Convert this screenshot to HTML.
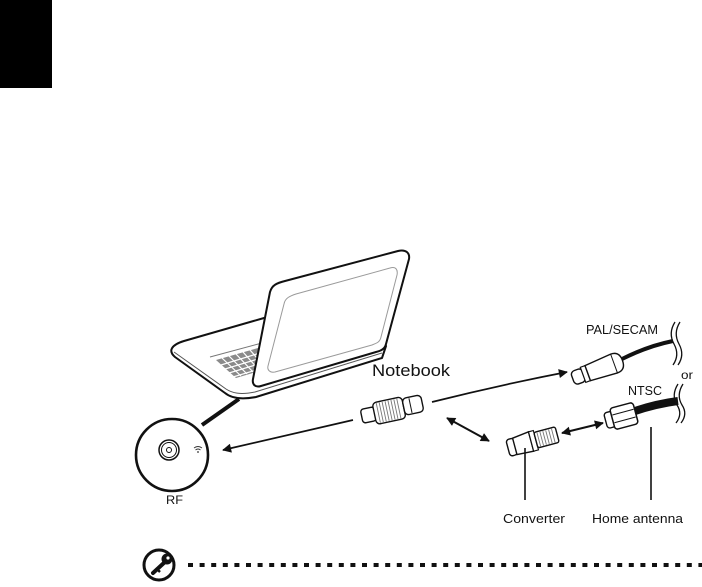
<!DOCTYPE html>
<html><head><meta charset="utf-8"><style>
html,body{margin:0;padding:0;background:#fff;}
body{width:702px;height:587px;overflow:hidden;position:relative;}
svg{position:absolute;left:0;top:0;}
text{font-family:"Liberation Sans",sans-serif;fill:#111;}
</style></head><body>
<svg width="702" height="587" viewBox="0 0 702 587" xmlns="http://www.w3.org/2000/svg">
<defs>
<marker id="ah" viewBox="0 0 10 10" refX="9" refY="5" markerWidth="12" markerHeight="9" markerUnits="userSpaceOnUse" orient="auto-start-reverse">
<path d="M0,0 L10,5 L0,10 Z" fill="#111"/>
</marker>
</defs>
<rect x="0" y="0" width="52" height="88" fill="#000"/>

<!-- Laptop base -->
<path d="M264,318 L184,341 C171,345 168,351 175,357 L225,393 C231,398 240,400 256,397 L382,358 L386,346 Z" fill="#fff" stroke="#111" stroke-width="2" stroke-linejoin="round"/>
<path d="M174,352 L226,389 C232,393 240,395 255,392 L382,353" fill="none" stroke="#555" stroke-width="1"/>
<path d="M210,357 L262,343" fill="none" stroke="#777" stroke-width="1"/>
<!-- keyboard -->
<path d="M216,360 L258,348 L263,370 L236,378 Z" fill="#8a8a8a"/>
<g stroke="#fff" stroke-width="1.2">
<line x1="221" y1="365" x2="260" y2="353"/>
<line x1="225" y1="369" x2="261" y2="358"/>
<line x1="229" y1="373" x2="262" y2="363"/>
<line x1="233" y1="377" x2="263" y2="368"/>
<line x1="222" y1="358" x2="241" y2="376"/>
<line x1="229" y1="356" x2="247" y2="374"/>
<line x1="236" y1="354" x2="253" y2="372"/>
<line x1="243" y1="352" x2="259" y2="370"/>
<line x1="250" y1="350" x2="264" y2="366"/>
</g>
<!-- Lid -->
<path d="M270,292 C272,285 277,283 285,281 L398,251 C406,249 410,253 409,259 L386,344 C385,349 381,351 376,352 L261,386 C255,388 252,384 253,379 Z" fill="#fff" stroke="#111" stroke-width="2" stroke-linejoin="round"/>
<path d="M284,304 C285,298 290,296 296,294 L390,268 C396,266 398,270 397,275 L381,337 C380,342 377,343 372,345 L275,372 C270,373 267,370 268,366 Z" fill="none" stroke="#9a9a9a" stroke-width="1"/>

<!-- RF callout -->
<line x1="202" y1="425" x2="239" y2="399" stroke="#111" stroke-width="4"/>
<circle cx="172" cy="455" r="36" fill="#fff" stroke="#111" stroke-width="2.6"/>
<circle cx="169" cy="450" r="10" fill="none" stroke="#111" stroke-width="1.5"/>
<circle cx="169" cy="450" r="7.5" fill="none" stroke="#111" stroke-width="1"/>
<circle cx="169" cy="450" r="2.5" fill="none" stroke="#111" stroke-width="1"/>
<g fill="none" stroke="#333" stroke-width="0.9">
<path d="M194,448 Q198,445 202,448"/>
<path d="M195.5,450 Q198,448 200.5,450"/>
</g>
<circle cx="198" cy="452" r="0.9" fill="#333"/>
<text x="166" y="504" font-size="11.5" textLength="17" lengthAdjust="spacingAndGlyphs">RF</text>

<!-- Notebook label -->
<text x="372" y="376" font-size="17" textLength="78" lengthAdjust="spacingAndGlyphs">Notebook</text>

<!-- arrow to RF -->
<path d="M353,420 L223,450" fill="none" stroke="#111" stroke-width="1.7" marker-end="url(#ah)"/>

<!-- Notebook connector -->
<g transform="translate(392,410) rotate(-12)">
<rect x="-31" y="-7" width="14" height="14" rx="3" fill="#fff" stroke="#111" stroke-width="1.4"/>
<rect x="-18" y="-11" width="30" height="22" rx="4" fill="#fff" stroke="#111" stroke-width="1.4"/>
<g stroke="#777" stroke-width="0.9">
<line x1="-14" y1="-10" x2="-14" y2="10"/><line x1="-11" y1="-10" x2="-11" y2="10"/>
<line x1="-8" y1="-10" x2="-8" y2="10"/><line x1="-5" y1="-10" x2="-5" y2="10"/>
<line x1="-2" y1="-10" x2="-2" y2="10"/><line x1="1" y1="-10" x2="1" y2="10"/>
<line x1="4" y1="-10" x2="4" y2="10"/><line x1="7" y1="-10" x2="7" y2="10"/>
</g>
<rect x="12" y="-9" width="19" height="17" rx="4" fill="#fff" stroke="#111" stroke-width="1.4"/>
<line x1="19" y1="-8" x2="19" y2="7" stroke="#111" stroke-width="1"/>
</g>

<!-- arrow to PAL -->
<path d="M432,402 Q500,385 567,372" fill="none" stroke="#111" stroke-width="1.7" marker-end="url(#ah)"/>

<!-- double arrow notebook-converter -->
<line x1="447" y1="418" x2="489" y2="441" stroke="#111" stroke-width="2" marker-start="url(#ah)" marker-end="url(#ah)"/>

<!-- Converter -->
<g transform="translate(533,441) rotate(-15)">
<rect x="-26" y="-8" width="8" height="17" rx="3" fill="#fff" stroke="#111" stroke-width="1.4"/>
<path d="M-19,-8 L-2,-10 L-2,10 L-19,9 Z" fill="#fff" stroke="#111" stroke-width="1.4"/>
<rect x="-2" y="-10" width="5" height="20" fill="#fff" stroke="#111" stroke-width="1.2"/>
<rect x="3" y="-8" width="22" height="16" rx="2" fill="#fff" stroke="#111" stroke-width="1.4"/>
<g stroke="#777" stroke-width="0.9">
<line x1="6" y1="-7" x2="6" y2="7"/><line x1="9" y1="-7" x2="9" y2="7"/>
<line x1="12" y1="-7" x2="12" y2="7"/><line x1="15" y1="-7" x2="15" y2="7"/>
<line x1="18" y1="-7" x2="18" y2="7"/><line x1="21" y1="-7" x2="21" y2="7"/>
</g>
</g>
<line x1="525" y1="448" x2="525" y2="500" stroke="#111" stroke-width="1.6"/>
<text x="503" y="523" font-size="13" textLength="62" lengthAdjust="spacingAndGlyphs">Converter</text>

<!-- double arrow converter-NTSC -->
<line x1="562" y1="433" x2="603" y2="423" stroke="#111" stroke-width="2" marker-start="url(#ah)" marker-end="url(#ah)"/>

<!-- NTSC cable & connector -->
<path d="M632,412 Q655,404 678,401" fill="none" stroke="#111" stroke-width="8"/>
<g transform="translate(624,416) rotate(-15)">
<rect x="-19" y="-8" width="9" height="16" rx="3" fill="#fff" stroke="#111" stroke-width="1.4"/>
<rect x="-12" y="-11" width="24" height="22" rx="3" fill="#fff" stroke="#111" stroke-width="1.5"/>
<line x1="-11" y1="-4" x2="11" y2="-4" stroke="#111" stroke-width="1"/>
<line x1="-11" y1="4" x2="11" y2="4" stroke="#111" stroke-width="1"/>
</g>
<line x1="651" y1="427" x2="651" y2="500" stroke="#111" stroke-width="1.6"/>
<text x="592" y="523" font-size="13" textLength="91" lengthAdjust="spacingAndGlyphs">Home antenna</text>

<!-- PAL cable & connector -->
<path d="M622,359 Q648,346 673,341" fill="none" stroke="#111" stroke-width="4"/>
<g transform="translate(599,369) rotate(-20)">
<rect x="-28" y="-7" width="12" height="14" rx="4" fill="#fff" stroke="#111" stroke-width="1.4"/>
<rect x="-17" y="-8" width="5" height="16" fill="#fff" stroke="#111" stroke-width="1.2"/>
<path d="M-12,-8 L16,-10 Q25,-10 25,0 Q25,10 16,10 L-12,8 Z" fill="#fff" stroke="#111" stroke-width="1.4"/>
<line x1="16" y1="-10" x2="16" y2="10" stroke="#111" stroke-width="1"/>
</g>

<!-- wavy break marks -->
<g fill="none" stroke="#111" stroke-width="1.3">
<path d="M675,322 Q668,333 674,344 Q680,355 673,365"/>
<path d="M680,322 Q673,333 679,344 Q685,355 678,365"/>
<path d="M678,384 Q671,395 677,405 Q683,414 676,423"/>
<path d="M683,384 Q676,395 682,405 Q688,414 681,423"/>
</g>

<text x="586" y="334" font-size="12.5" textLength="72" lengthAdjust="spacingAndGlyphs">PAL/SECAM</text>
<text x="681" y="379" font-size="12" textLength="12" lengthAdjust="spacingAndGlyphs">or</text>
<text x="628" y="395" font-size="13" textLength="34" lengthAdjust="spacingAndGlyphs">NTSC</text>

<!-- key icon -->
<circle cx="159" cy="565" r="15" fill="#fff" stroke="#111" stroke-width="3"/>
<line x1="166" y1="561" x2="153" y2="573" stroke="#111" stroke-width="4" stroke-linecap="round"/>
<line x1="157" y1="569" x2="160" y2="572" stroke="#111" stroke-width="2.5"/>
<circle cx="167" cy="559" r="5.5" fill="#111"/>
<circle cx="168" cy="558" r="1.6" fill="#fff"/>

<!-- dotted line -->
<line x1="188" y1="565" x2="702" y2="565" stroke="#111" stroke-width="4" stroke-dasharray="5 6.6"/>
</svg>
</body></html>
